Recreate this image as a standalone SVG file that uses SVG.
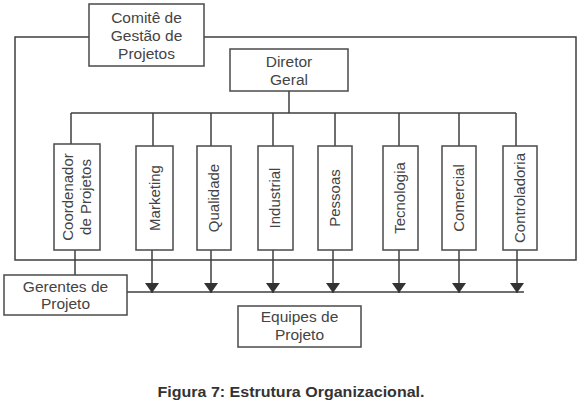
<svg xmlns="http://www.w3.org/2000/svg" width="582" height="410" viewBox="0 0 582 410">
<defs>
<style>
.box{fill:#fff;stroke:#4a4a4a;stroke-width:1.5}
.ln{fill:none;stroke:#3f3f3f;stroke-width:1.5}
.t{font-family:"Liberation Sans",Arial,sans-serif;font-size:15px;fill:#444;text-anchor:middle}
.h{font-size:15.5px}
.cap{font-family:"Liberation Sans",Arial,sans-serif;font-size:14px;font-weight:bold;fill:#333;text-anchor:middle}
</style>
<marker id="ah" markerUnits="userSpaceOnUse" markerWidth="10" markerHeight="14" refX="10" refY="7" orient="auto">
<path d="M0,0 L10,7 L0,14 z" fill="#333"/>
</marker>
</defs>
<rect width="582" height="410" fill="#fff"/>
<g id="connectors">
<path class="ln" d="M89,37 H15 V260 H576 V37 H204"/>
<path class="ln" d="M289,91 V113 M71,113 H516"/>
<path class="ln" d="M71,113 V144 M153,113 V146 M211,113 V146 M273,113 V146 M335,113 V146 M399,113 V146 M459,113 V146 M516,113 V146"/>
<path class="ln" d="M75,250 V275"/>
<path class="ln" d="M127,292 H524"/>
<path class="ln" marker-end="url(#ah)" d="M152,250 V293"/>
<path class="ln" marker-end="url(#ah)" d="M211,250 V293"/>
<path class="ln" marker-end="url(#ah)" d="M273,250 V293"/>
<path class="ln" marker-end="url(#ah)" d="M333,250 V293"/>
<path class="ln" marker-end="url(#ah)" d="M399,250 V293"/>
<path class="ln" marker-end="url(#ah)" d="M459,250 V293"/>
<path class="ln" marker-end="url(#ah)" d="M517,250 V293"/>
</g>
<g id="comite">
<rect class="box" x="89" y="4" width="115" height="62"/>
<text class="t h" x="146.5" y="23">Comitê de</text>
<text class="t h" x="146.5" y="41">Gestão de</text>
<text class="t h" x="146.5" y="59">Projetos</text>
</g>
<g id="diretor">
<rect class="box" x="230" y="49" width="118" height="42"/>
<text class="t h" x="289" y="67">Diretor</text>
<text class="t h" x="289" y="85">Geral</text>
</g>
<g id="coordenador">
<rect class="box" x="54" y="144" width="46" height="106"/>
<text class="t" transform="rotate(-90)" x="-197" y="73">Coordenador</text>
<text class="t" transform="rotate(-90)" x="-197" y="91">de Projetos</text>
</g>
<g id="marketing">
<rect class="box" x="136" y="146" width="37" height="104"/>
<text class="t" transform="rotate(-90)" x="-198" y="160">Marketing</text>
</g>
<g id="qualidade">
<rect class="box" x="197" y="146" width="34" height="104"/>
<text class="t" transform="rotate(-90)" x="-198" y="219">Qualidade</text>
</g>
<g id="industrial">
<rect class="box" x="258" y="146" width="35" height="104"/>
<text class="t" transform="rotate(-90)" x="-198" y="280">Industrial</text>
</g>
<g id="pessoas">
<rect class="box" x="318" y="146" width="34" height="104"/>
<text class="t" transform="rotate(-90)" x="-198" y="340">Pessoas</text>
</g>
<g id="tecnologia">
<rect class="box" x="383" y="146" width="35" height="104"/>
<text class="t" transform="rotate(-90)" x="-198" y="405">Tecnologia</text>
</g>
<g id="comercial">
<rect class="box" x="442" y="146" width="34" height="104"/>
<text class="t" transform="rotate(-90)" x="-198" y="464">Comercial</text>
</g>
<g id="controladoria">
<rect class="box" x="503" y="146" width="34" height="104"/>
<text class="t" transform="rotate(-90)" x="-198" y="525">Controladoria</text>
</g>
<g id="gerentes">
<rect class="box" x="4" y="275" width="123" height="40"/>
<text class="t h" x="65.5" y="292">Gerentes de</text>
<text class="t h" x="65.5" y="309">Projeto</text>
</g>
<g id="equipes">
<rect class="box" x="238" y="306" width="123" height="41"/>
<text class="t h" x="299.5" y="322">Equipes de</text>
<text class="t h" x="299.5" y="340">Projeto</text>
</g>
<text class="cap" x="291" y="397" textLength="267" lengthAdjust="spacingAndGlyphs">Figura 7: Estrutura Organizacional.</text>
</svg>
